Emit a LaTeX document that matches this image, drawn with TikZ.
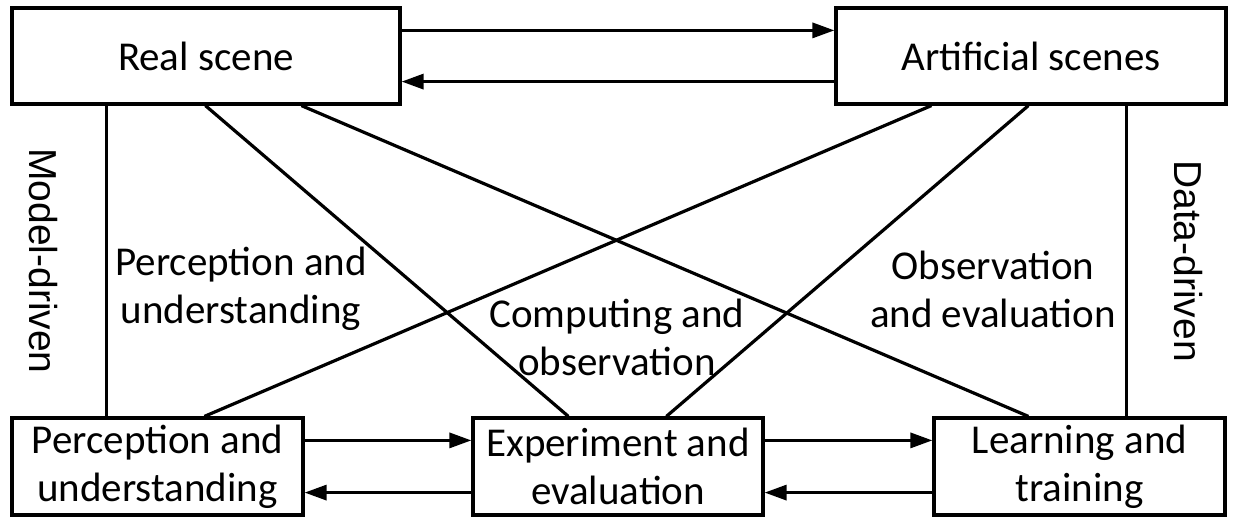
\documentclass[tikz,border=0pt]{standalone}
\usepackage{fontspec}
\setmainfont{Carlito}
\newfontfamily\arialf{Liberation Sans}
\usetikzlibrary{arrows.meta}
\begin{document}
\begin{tikzpicture}[x=0.5pt,y=-0.5pt,
  box/.style={draw,line width=1.6pt,inner sep=0pt,align=center,font=\fontsize{20.5}{24}\selectfont},
  lbl/.style={align=center,inner sep=0pt,font=\fontsize{20.5}{24}\selectfont},
  side/.style={inner sep=0pt,rotate=-90,font=\arialf\fontsize{19.5}{23}\selectfont},
  conn/.style={line width=1.6pt},
  arr/.style={line width=1.6pt,-{Triangle[length=11pt,width=7.5pt]}}]
\useasboundingbox (0,0) rectangle (1236,522);
\node[box,minimum width=194pt,minimum height=48pt] (real) at (206,56) {Real scene};
\node[box,minimum width=195pt,minimum height=48pt] (art) at (1031,56) {Artificial scenes};
\node[box,minimum width=145.5pt,minimum height=48.5pt] (perc) at (157.5,466.5) {Perception and\\understanding};
\node[box,minimum width=145pt,minimum height=48.5pt] (exp) at (618,466.5) {Experiment and\\evaluation};
\node[box,minimum width=145.5pt,minimum height=48.5pt] (learn) at (1079.5,466.5) {Learning and\\training};
% top arrows
\draw[arr] ([yshift=-12pt]real.north east) -- ([yshift=-12pt]art.north west);
\draw[arr] ([yshift=12pt]art.south west) -- ([yshift=12pt]real.south east);
% bottom arrows
\draw[arr] ([yshift=-12pt]perc.north east) -- ([yshift=-12pt]exp.north west);
\draw[arr] ([yshift=12pt]exp.south west) -- ([yshift=12pt]perc.south east);
\draw[arr] ([yshift=-12pt]exp.north east) -- ([yshift=-12pt]learn.north west);
\draw[arr] ([yshift=12pt]learn.south west) -- ([yshift=12pt]exp.south east);
% connectors
\draw[conn] ([xshift=48pt]real.south west) -- ([xshift=48pt]perc.north west);
\draw[conn] ([xshift=97.5pt]real.south west) -- ([xshift=48.5pt]exp.north west);
\draw[conn] ([xshift=145.5pt]real.south west) -- ([xshift=48pt]learn.north west);
\draw[conn] ([xshift=48.5pt]art.south west) -- ([xshift=97pt]perc.north west);
\draw[conn] ([xshift=97pt]art.south west) -- ([xshift=97.5pt]exp.north west);
\draw[conn] ([xshift=146pt]art.south west) -- ([xshift=97pt]learn.north west);
% labels
\node[side] (md) at (43,261) {Model-driven};
\node[side] (dd) at (1188,261) {Data-driven};
\node[lbl] (l1) at (241,289) {Perception and\\understanding};
\node[lbl] (l2) at (617,337) {Computing and\\observation};
\node[lbl] (l3) at (993,289) {Observation\\and evaluation};
\end{tikzpicture}
\end{document}
